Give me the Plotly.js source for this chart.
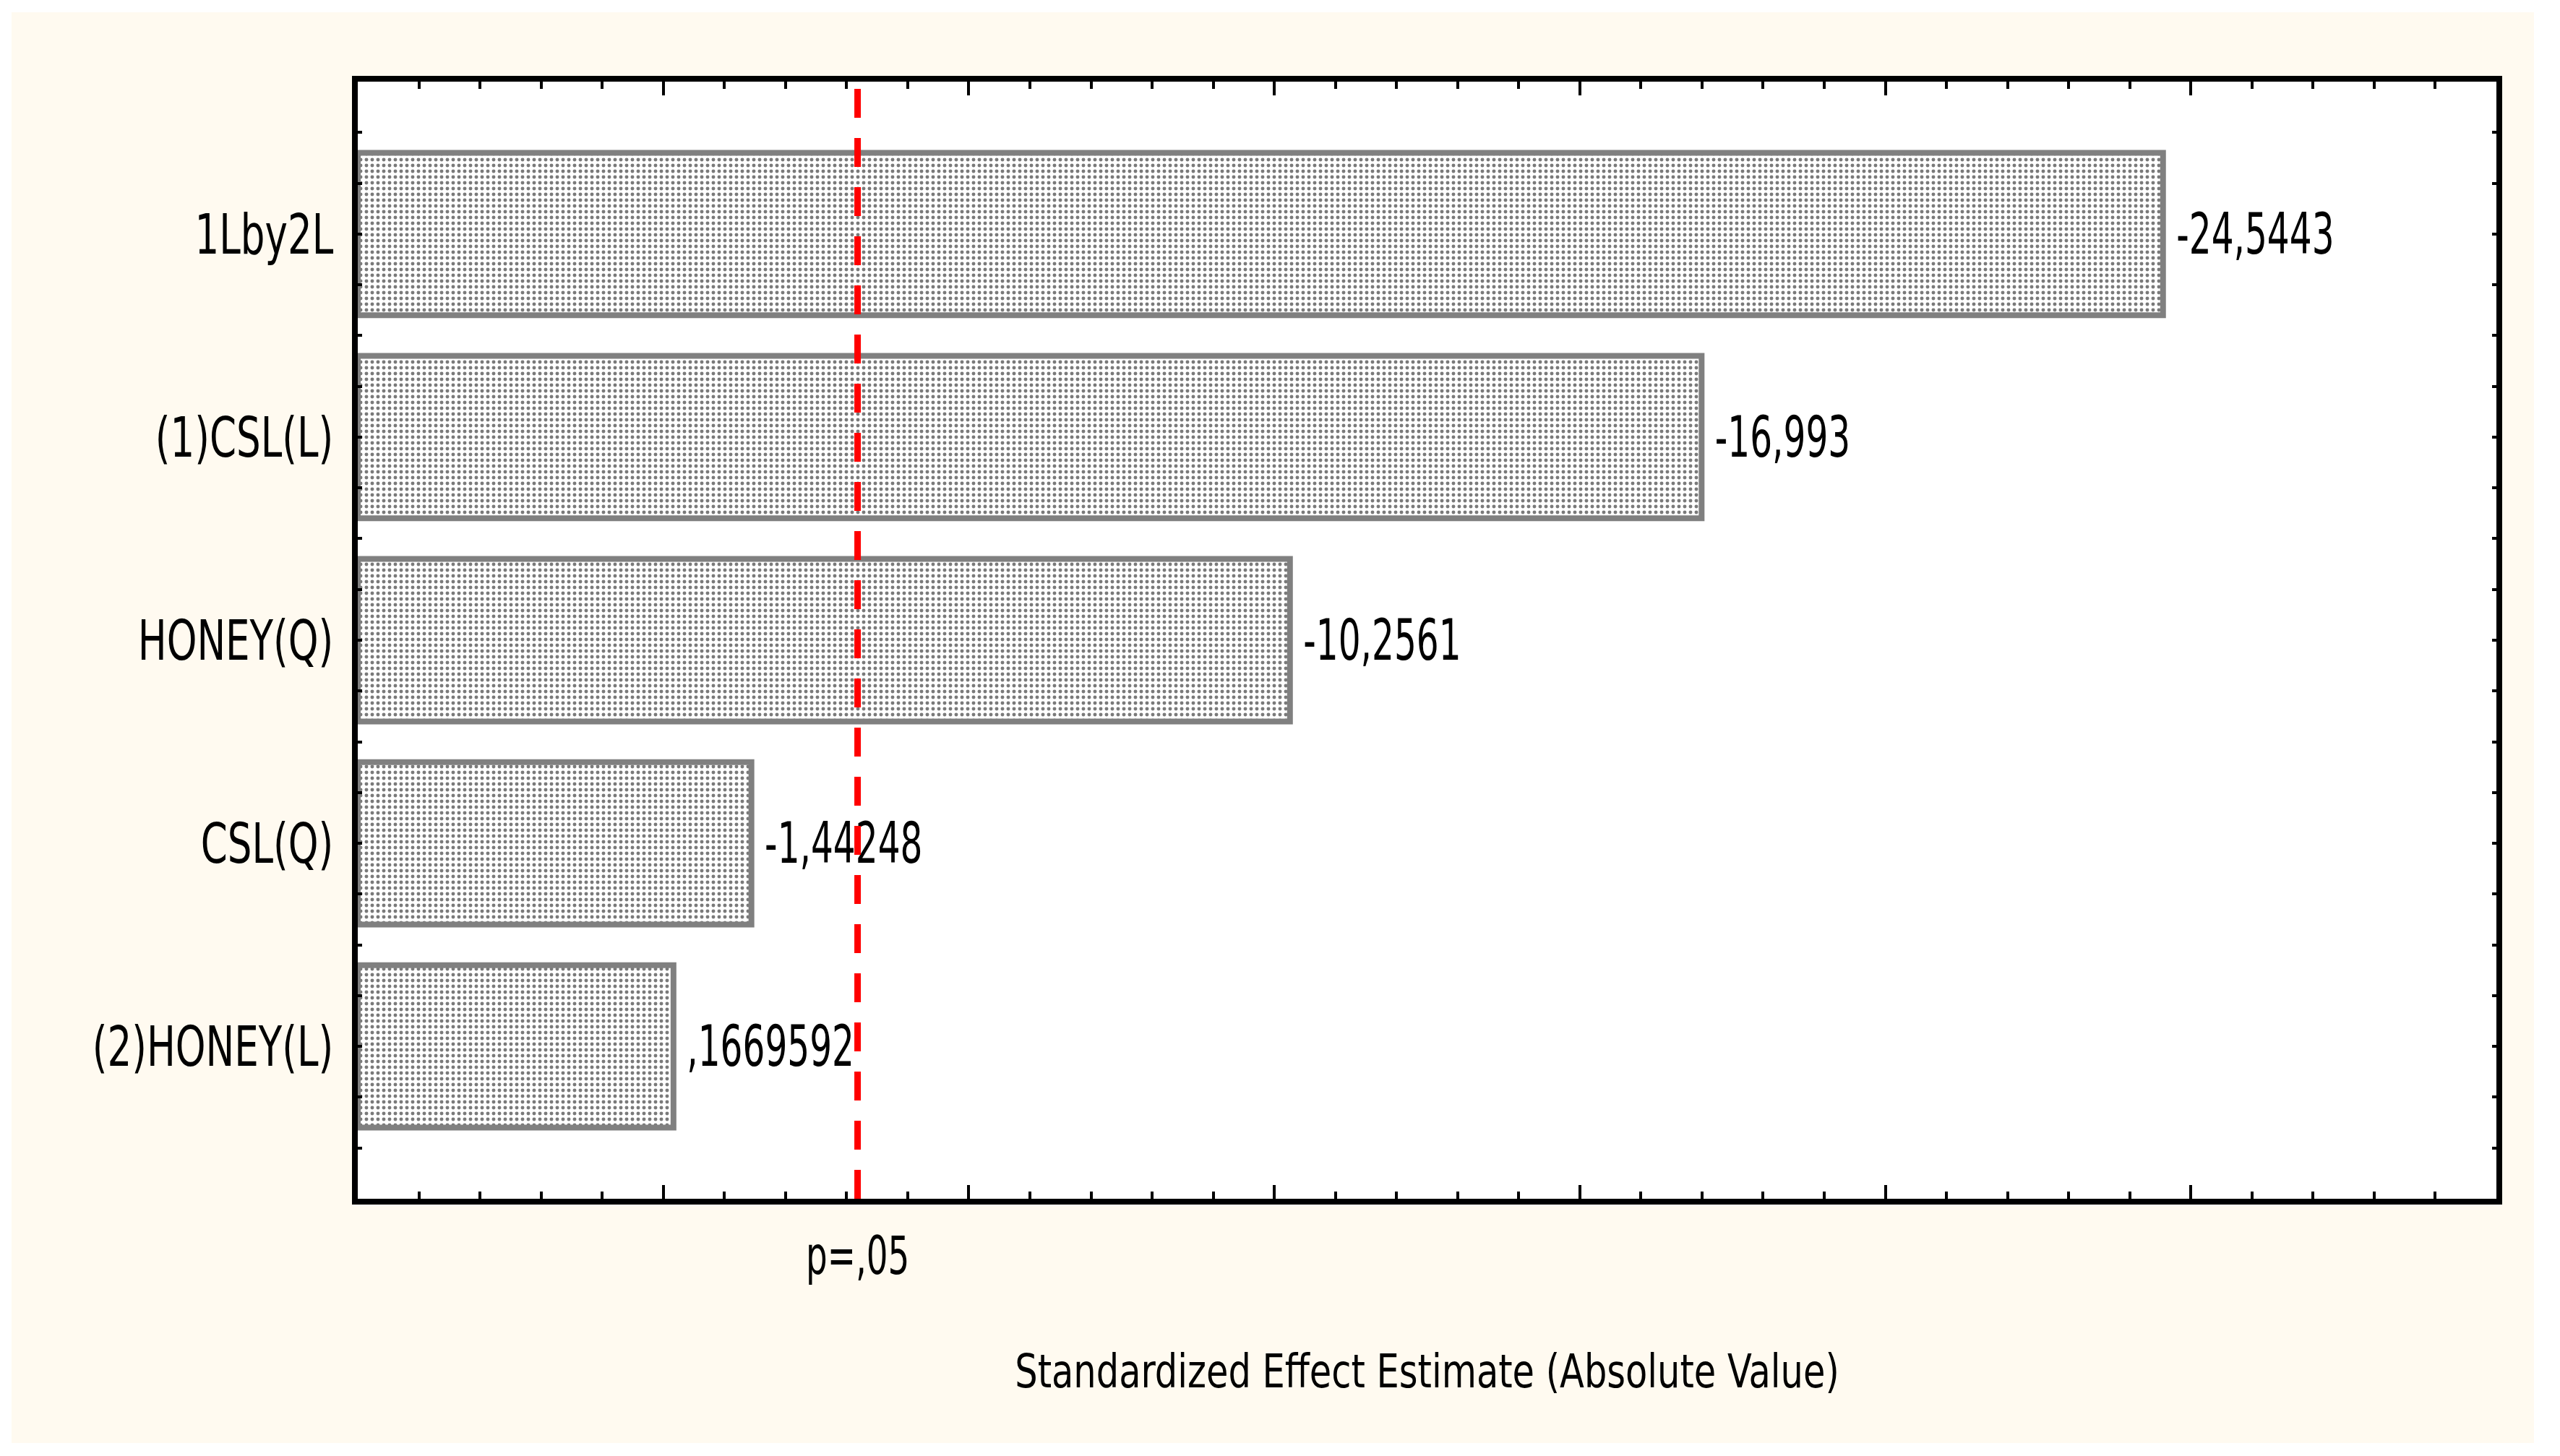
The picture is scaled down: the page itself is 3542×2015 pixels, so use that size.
<!DOCTYPE html>
<html>
<head>
<meta charset="utf-8">
<script src="https://cdn.plot.ly/plotly-3.0.1.min.js"></script>
<style>
html, body { margin: 0; padding: 0; background: #ffffff; }
#pareto { position: absolute; left: 16px; top: 17px; width: 3490px; height: 1980px; }
</style>
</head>
<body>
<div id="pareto"></div>
<script>
// Pareto chart of standardized effects (Statistica style)
let effect_names = ["1Lby2L", "(1)CSL(L)", "HONEY(Q)", "CSL(Q)", "(2)HONEY(L)"];
let effect_values = [-24.5443, -16.993, -10.2561, -1.44248, 0.1669592];
let p_crit = 3.18;        // t value at p=.05
let p_label = "p=,05";
let x_range = [-5, 30];

const font_family = "'Liberation Sans Narrow', 'Arial Narrow', 'DejaVu Sans Condensed', sans-serif";

// Statistica prints decimals with a comma and drops the leading zero
function statFormat(v) {
    let s = String(v).replace(".", ",");
    return s.replace(/^(-?)0,/, "$1,");
}

// the original uses a tall narrow font, so stretch the drawn text vertically
function stretchText(selector, k) {
    document.querySelectorAll('#pareto ' + selector).forEach(t => {
        let b = t.getBBox();
        let cx = b.x + b.width / 2;
        let cy = b.y + b.height / 2;
        let tr = t.getAttribute('transform') || '';
        t.setAttribute('transform', tr + ' translate(' + cx + ',' + cy + ') scale(1,' + k + ') translate(' + (-cx) + ',' + (-cy) + ')');
    });
}

function paintPareto() {
    let positions = effect_names.map((_, i) => i);
    let base = x_range[0];

    let trace_bars = {
        type: 'bar',
        orientation: 'h',
        y: positions,
        x: effect_values.map(v => Math.abs(v) - base),
        base: base,
        width: 0.8,
        // nbsp keeps the label off the bar outline
        text: effect_values.map(v => "\u00a0" + statFormat(v)),
        textposition: 'outside',
        cliponaxis: false,
        textfont: {family: font_family, size: 54, color: '#000000'},
        marker: {
            color: '#ffffff',
            line: {color: '#808080', width: 8},
            pattern: {shape: '.', fgcolor: '#7a7a7a', bgcolor: '#ffffff', size: 8, solidity: 0.3}
        },
        hoverinfo: 'skip'
    };

    let layout = {
        width: 3490,
        height: 1980,
        autosize: false,
        margin: {l: 479, r: 52, t: 96, b: 338},
        paper_bgcolor: '#fffaf0',
        plot_bgcolor: '#ffffff',
        showlegend: false,
        font: {family: font_family, size: 56, color: '#000000'},
        xaxis: {
            range: x_range,
            tick0: 0,
            dtick: 5,
            ticks: 'inside',
            ticklen: 19,
            tickwidth: 4,
            tickcolor: '#000000',
            showticklabels: false,
            showline: true,
            linewidth: 8,
            linecolor: '#000000',
            mirror: 'ticks',
            showgrid: false,
            zeroline: false,
            minor: {tick0: 0, dtick: 1, ticks: 'inside', ticklen: 10, tickwidth: 4, tickcolor: '#000000', showgrid: false},
            title: {
                text: 'Standardized Effect Estimate (Absolute Value)',
                font: {family: font_family, size: 55, color: '#000000'},
                standoff: 215
            },
            automargin: false
        },
        yaxis: {
            range: [4.75, -0.75],
            tickmode: 'array',
            tickvals: positions,
            ticktext: effect_names,
            ticks: 'inside',
            ticklen: 6,
            tickwidth: 4,
            tickcolor: '#000000',
            tickfont: {family: font_family, size: 59, color: '#000000'},
            ticklabelstandoff: 14,
            showline: true,
            linewidth: 8,
            linecolor: '#000000',
            mirror: 'ticks',
            showgrid: false,
            zeroline: false,
            minor: {tick0: 0, dtick: 0.25, ticks: 'inside', ticklen: 6, tickwidth: 4, tickcolor: '#000000', showgrid: false},
            automargin: false
        },
        shapes: [{
            type: 'line',
            xref: 'x',
            yref: 'paper',
            x0: p_crit,
            x1: p_crit,
            y0: 0,
            y1: 1,
            layer: 'above',
            line: {color: '#ff0000', width: 9, dash: '40px,28px'}
        }],
        annotations: [{
            xref: 'x',
            yref: 'paper',
            x: p_crit,
            y: 0,
            yanchor: 'top',
            yshift: -46,
            showarrow: false,
            text: p_label,
            font: {family: font_family, size: 52, color: '#000000'}
        }]
    };

    Plotly.newPlot('pareto', [trace_bars], layout, {displayModeBar: false, staticPlot: true}).then(() => {
        stretchText('.ytick text', 1.3);
        stretchText('text.bartext', 1.45);
        stretchText('.annotation-text', 1.42);
        stretchText('text.xtitle', 1.17);
    });
}

paintPareto();
</script>
</body>
</html>
